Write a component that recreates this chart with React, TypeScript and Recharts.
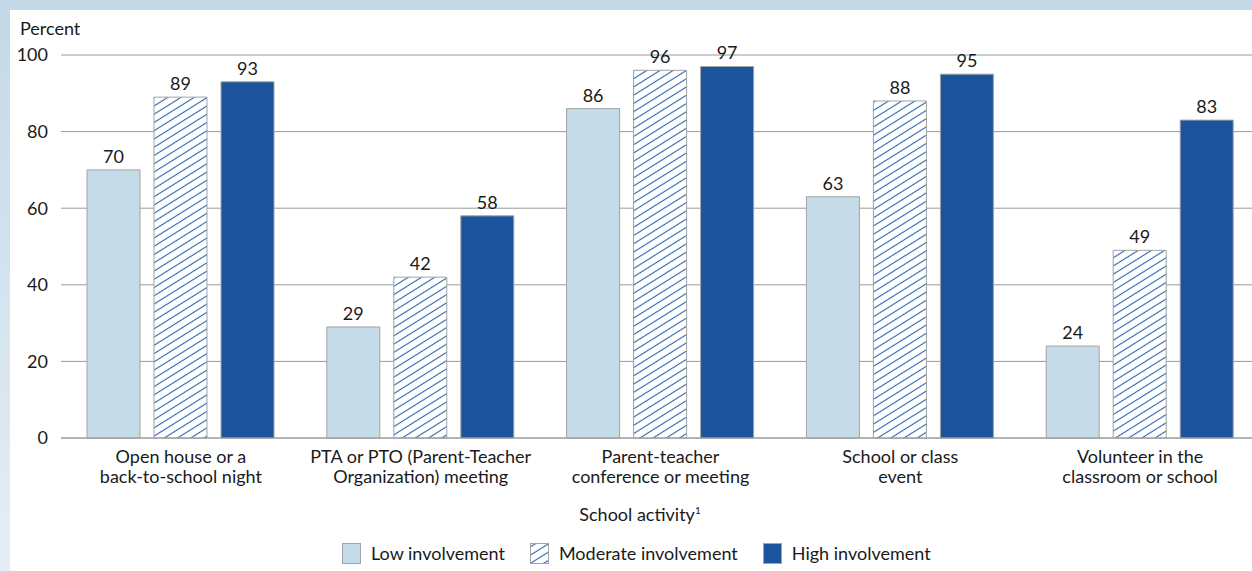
import { BarChart, Bar, XAxis, YAxis, CartesianGrid, LabelList } from 'recharts';

const categories = [
  ['Open house or a', 'back-to-school night'],
  ['PTA or PTO (Parent-Teacher', 'Organization) meeting'],
  ['Parent-teacher', 'conference or meeting'],
  ['School or class', 'event'],
  ['Volunteer in the', 'classroom or school'],
];
const lowValues = [70, 29, 86, 63, 24];
const moderateValues = [89, 42, 96, 88, 49];
const highValues = [93, 58, 97, 95, 83];
const yTicks = [0, 20, 40, 60, 80, 100];

const data = categories.map((lines, i) => ({
  name: lines.join('\n'),
  low: lowValues[i],
  moderate: moderateValues[i],
  high: highValues[i],
}));

const FONT = 'Lato, "Open Sans", sans-serif';
const FS = 18;
const LIGHT = '#c5dbe8';
const DARK = '#1c539d';
const HATCH = '#2a66b2';
const EDGE = '#a3a3a3';
const TEXT = '#1a1a1a';

const CategoryTick = (props: any) => {
  const { x, y, payload } = props;
  const lines = String(payload.value).split('\n');
  return (
    <text x={x} y={y} textAnchor="middle" fill={TEXT} fontSize={FS} fontFamily={FONT}>
      {lines.map((line, i) => (
        <tspan key={i} x={x} dy={i === 0 ? 17 : 20}>
          {line}
        </tspan>
      ))}
    </text>
  );
};

const legendItems = [
  { label: 'Low involvement', fill: LIGHT },
  { label: 'Moderate involvement', fill: 'url(#hatch)' },
  { label: 'High involvement', fill: DARK },
];

export default function App() {
  return (
    <div
      style={{
        position: 'fixed',
        left: 0,
        top: 0,
        width: 1252,
        height: 571,
        overflow: 'hidden',
        background: 'linear-gradient(to bottom, #c3d9e7, #e5eef5)',
        fontFamily: FONT,
      }}
    >
      <div style={{ position: 'absolute', left: 10, top: 10, right: 0, bottom: 0, background: '#fff' }} />
      <div style={{ position: 'absolute', left: 20, top: 17, fontSize: FS, color: TEXT }}>Percent</div>
      <div style={{ position: 'absolute', left: 0, top: 0 }}>
        <BarChart
          width={1262}
          height={571}
          data={data}
          margin={{ top: 55, right: 2, left: 0, bottom: 0 }}
          barCategoryGap={26}
          barGap={14}
        >
          <defs>
            <pattern id="hatch" patternUnits="userSpaceOnUse" width="7" height="7" patternTransform="rotate(-32)">
              <rect width="7" height="7" fill="#fff" />
              <line x1="0" y1="3.5" x2="7" y2="3.5" stroke={HATCH} strokeWidth={1.1} />
            </pattern>
          </defs>
          <CartesianGrid vertical={false} stroke="#9a9a9a" />
          <XAxis
            dataKey="name"
            height={133}
            interval={0}
            tick={<CategoryTick />}
            tickLine={false}
            axisLine={{ stroke: '#9a9a9a' }}
          />
          <YAxis
            width={61}
            domain={[0, 100]}
            ticks={yTicks}
            tickSize={0}
            tickMargin={13}
            axisLine={false}
            tickLine={false}
            tick={{ fill: TEXT, fontSize: FS, fontFamily: FONT }}
          />
          <Bar dataKey="low" fill={LIGHT} stroke={EDGE} strokeWidth={1} isAnimationActive={false}>
            <LabelList dataKey="low" position="top" offset={7} fill={TEXT} fontSize={FS} fontFamily={FONT} />
          </Bar>
          <Bar dataKey="moderate" fill="url(#hatch)" stroke={EDGE} strokeWidth={1} isAnimationActive={false}>
            <LabelList dataKey="moderate" position="top" offset={7} fill={TEXT} fontSize={FS} fontFamily={FONT} />
          </Bar>
          <Bar dataKey="high" fill={DARK} stroke={EDGE} strokeWidth={1} isAnimationActive={false}>
            <LabelList dataKey="high" position="top" offset={7} fill={TEXT} fontSize={FS} fontFamily={FONT} />
          </Bar>
        </BarChart>
      </div>
      <div
        style={{
          position: 'absolute',
          left: 0,
          width: 1280,
          top: 503,
          textAlign: 'center',
          fontSize: FS,
          color: TEXT,
        }}
      >
        School activity<sup style={{ fontSize: 10 }}>1</sup>
      </div>
      <div
        style={{
          position: 'absolute',
          left: 342,
          top: 542,
          display: 'flex',
          alignItems: 'center',
          gap: 25,
          fontSize: FS,
          color: TEXT,
        }}
      >
        {legendItems.map((item) => (
          <div key={item.label} style={{ display: 'flex', alignItems: 'center', gap: 10 }}>
            <svg width={19} height={21}>
              <rect x={0.5} y={0.5} width={18} height={20} fill={item.fill} stroke={EDGE} />
            </svg>
            <span>{item.label}</span>
          </div>
        ))}
      </div>
    </div>
  );
}
